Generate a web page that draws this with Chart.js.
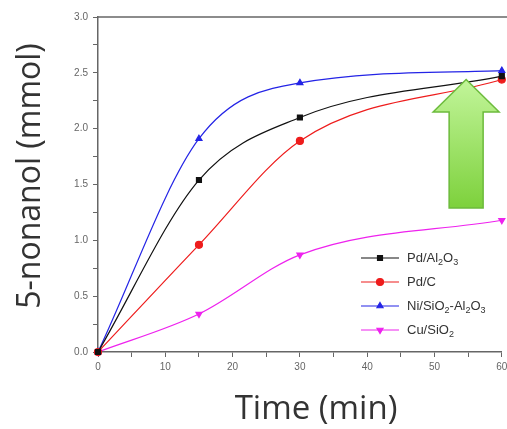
<!DOCTYPE html>
<html>
<head>
<meta charset="utf-8">
<script src="https://cdn.jsdelivr.net/npm/chart.js@4"></script>
<style>
  html, body { margin: 0; padding: 0; background: #fff; }
  #wrap { width: 507px; height: 429px; position: relative; }
</style>
</head>
<body>
<div id="wrap"><canvas id="chart"></canvas></div>
<script>
const times = [0, 15, 30, 60];
const pdAl2O3 = [0, 1.54, 2.10, 2.47];
const pdC = [0, 0.96, 1.89, 2.44];
const niSiO2Al2O3 = [0, 1.91, 2.41, 2.52];
const cuSiO2 = [0, 0.34, 0.87, 1.18];
// "_x" marks a subscript character
const seriesLabels = ['Pd/Al_2O_3', 'Pd/C', 'Ni/SiO_2-Al_2O_3', 'Cu/SiO_2'];
const xTitle = 'Time (min)';
const yTitle = '5-nonanol (mmol)';

const toPoints = ys => times.map((t, i) => ({ x: t, y: ys[i] }));

const makeSet = (label, ys, color, style, rotation) => ({
  label: label.replace(/_/g, ''),
  data: toPoints(ys),
  borderColor: color,
  backgroundColor: color,
  borderWidth: 1.2,
  pointStyle: style,
  rotation: rotation || 0,
  pointRadius: 3.5,
  cubicInterpolationMode: 'monotone',
  clip: false,
});

// draws the label with subscripts
const drawMarkup = (ctx, text, x, y) => {
  let cx = x;
  for (let i = 0; i < text.length; i++) {
    if (text[i] === '_') {
      i++;
      ctx.font = '9px "Liberation Sans", Arial, sans-serif';
      ctx.fillText(text[i], cx, y + 5);
      cx += ctx.measureText(text[i]).width;
    } else {
      ctx.font = '13px "Liberation Sans", Arial, sans-serif';
      ctx.fillText(text[i], cx, y);
      cx += ctx.measureText(text[i]).width;
    }
  }
};

const extras = {
  id: 'extras',
  beforeDatasetsDraw(chart) {
    const { ctx, chartArea } = chart;
    ctx.save();
    ctx.strokeStyle = '#666';
    ctx.lineWidth = 1.5;
    ctx.beginPath();
    ctx.moveTo(chartArea.left, chartArea.top);
    ctx.lineTo(chart.width, chartArea.top);
    ctx.stroke();
    ctx.restore();
  },
  afterDatasetsDraw(chart) {
    const { ctx, chartArea, scales } = chart;
    ctx.save();

    // green arrow
    const ax = scales.x.getPixelForValue(54.7);
    const tip = scales.y.getPixelForValue(2.44);
    const neck = scales.y.getPixelForValue(2.15);
    const base = scales.y.getPixelForValue(1.29);
    const grad = ctx.createLinearGradient(0, tip, 0, base);
    grad.addColorStop(0, '#c2f59a');
    grad.addColorStop(1, '#7dd13c');
    ctx.beginPath();
    ctx.moveTo(ax, tip);
    ctx.lineTo(ax + 33, neck);
    ctx.lineTo(ax + 17, neck);
    ctx.lineTo(ax + 17, base);
    ctx.lineTo(ax - 17, base);
    ctx.lineTo(ax - 17, neck);
    ctx.lineTo(ax - 33, neck);
    ctx.closePath();
    ctx.fillStyle = grad;
    ctx.fill();
    ctx.strokeStyle = '#6cbb3c';
    ctx.lineWidth = 1.5;
    ctx.stroke();

    // legend inside plot
    const n = chart.data.datasets.length;
    chart.data.datasets.forEach((ds, i) => {
      const y = chartArea.bottom - 22 - (n - 1 - i) * 24;
      const x0 = 361;
      ctx.strokeStyle = ds.borderColor;
      ctx.lineWidth = 1.2;
      ctx.beginPath();
      ctx.moveTo(x0, y);
      ctx.lineTo(x0 + 38, y);
      ctx.stroke();
      ctx.fillStyle = ds.backgroundColor;
      Chart.helpers.drawPoint(ctx, {
        pointStyle: ds.pointStyle, rotation: ds.rotation, radius: 3.5, borderWidth: 1
      }, x0 + 19, y);
      ctx.fillStyle = '#333';
      ctx.textBaseline = 'middle';
      ctx.textAlign = 'left';
      drawMarkup(ctx, seriesLabels[i], x0 + 46, y);
    });

    // axis titles
    ctx.fillStyle = '#333';
    ctx.textAlign = 'center';
    ctx.textBaseline = 'middle';
    ctx.font = '33px "Open Sans", sans-serif';
    ctx.fillText(xTitle, 316, 410);
    ctx.translate(31, 176);
    ctx.rotate(-Math.PI / 2);
    ctx.font = '32px "Open Sans", sans-serif';
    ctx.fillText(yTitle, 0, 0);
    ctx.restore();
  }
};

const tickFont = { family: '"Liberation Sans", Arial, sans-serif', size: 10 };

new Chart(document.getElementById('chart'), {
  type: 'line',
  data: {
    datasets: [
      makeSet(seriesLabels[0], pdAl2O3, '#111111', 'rect'),
      makeSet(seriesLabels[1], pdC, '#ee1c1c', 'circle'),
      makeSet(seriesLabels[2], niSiO2Al2O3, '#2424e6', 'triangle'),
      makeSet(seriesLabels[3], cuSiO2, '#ee22ee', 'triangle', 180),
    ],
  },
  options: {
    responsive: true,
    maintainAspectRatio: false,
    animation: false,
    layout: { padding: { top: 17, right: 5, left: 0, bottom: 0 } },
    plugins: {
      legend: { display: false },
      tooltip: { enabled: false },
    },
    scales: {
      x: {
        type: 'linear',
        min: 0,
        max: 60,
        afterFit: s => { s.height = 77; s.paddingLeft = 0; s.paddingRight = 0; },
        border: { display: true, color: '#666', width: 1.5 },
        grid: { drawOnChartArea: false, color: '#666', tickLength: 5 },
        ticks: {
          stepSize: 5,
          autoSkip: false,
          maxRotation: 0,
          padding: 4,
          color: '#666',
          font: tickFont,
          callback: v => (v % 10 === 0 ? String(v) : ''),
        },
      },
      y: {
        min: 0,
        max: 3,
        afterFit: s => { s.width = 98; s.paddingTop = 0; s.paddingBottom = 0; },
        border: { display: true, color: '#666', width: 1.5 },
        grid: { drawOnChartArea: false, color: '#666', tickLength: 5 },
        ticks: {
          stepSize: 0.25,
          autoSkip: false,
          padding: 5,
          color: '#666',
          font: tickFont,
          callback: v => (Math.abs(v * 2 - Math.round(v * 2)) < 1e-6 ? v.toFixed(1) : ''),
        },
      },
    },
  },
  plugins: [extras],
});
</script>
</body>
</html>
